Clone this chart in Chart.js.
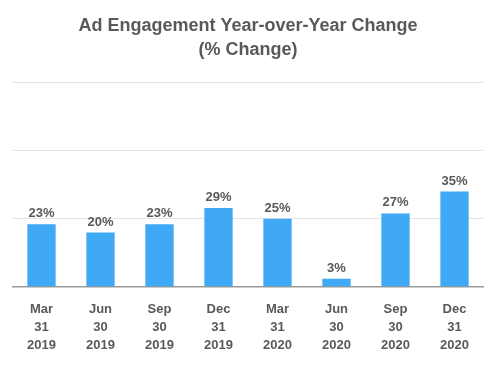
<!DOCTYPE html>
<html>
<head>
<meta charset="utf-8">
<script src="https://cdn.jsdelivr.net/npm/chart.js@4/dist/chart.umd.min.js"></script>
<style>
  html, body { margin: 0; padding: 0; background: #fff; }
  #wrap { width: 500px; height: 370px; }
</style>
</head>
<body>
<div id="wrap"><canvas id="chart" width="500" height="370"></canvas></div>
<script>
// quarter labels (month / day / year)
const quarters = [
  ["Mar", "31", "2019"], ["Jun", "30", "2019"], ["Sep", "30", "2019"], ["Dec", "31", "2019"],
  ["Mar", "31", "2020"], ["Jun", "30", "2020"], ["Sep", "30", "2020"], ["Dec", "31", "2020"]
];
const yoyChange = [23, 20, 23, 29, 25, 3, 27, 35];
const yTicks = [0, 25, 50, 75];

const barColor = "#3fa9f5";
const textGrey = "#595959";

// draws "23%" etc above each bar
const valueLabels = {
  id: "valueLabels",
  afterDatasetsDraw(chart) {
    const ctx = chart.ctx;
    const meta = chart.getDatasetMeta(0);
    ctx.save();
    ctx.font = "bold 13px 'Liberation Sans', Arial, sans-serif";
    ctx.fillStyle = textGrey;
    ctx.textAlign = "center";
    ctx.textBaseline = "bottom";
    meta.data.forEach((bar, i) => {
      ctx.fillText(yoyChange[i] + "%", bar.x, bar.y - 4);
    });
    ctx.restore();
  }
};

new Chart(document.getElementById("chart").getContext("2d"), {
  type: "bar",
  data: {
    labels: quarters,
    datasets: [{
      data: yoyChange,
      backgroundColor: barColor,
      barPercentage: 0.48,
      categoryPercentage: 1.0
    }]
  },
  options: {
    responsive: false,
    animation: false,
    layout: { padding: { left: 12, right: 16, top: 0, bottom: 11 } },
    plugins: {
      legend: { display: false },
      tooltip: { enabled: false },
      title: {
        display: true,
        text: ["Ad Engagement Year-over-Year Change", "(% Change)"],
        color: textGrey,
        font: { family: "'Liberation Sans', Arial, sans-serif", size: 18, weight: "bold", lineHeight: 1.35 },
        padding: { top: 14, bottom: 20 }
      }
    },
    scales: {
      x: {
        grid: { display: false },
        border: { display: false },
        ticks: {
          color: textGrey,
          padding: 5,
          maxRotation: 0,
          autoSkip: false,
          font: { family: "'Liberation Sans', Arial, sans-serif", size: 13, weight: "bold", lineHeight: 18 / 13 }
        }
      },
      y: {
        min: yTicks[0],
        max: yTicks[yTicks.length - 1],
        afterBuildTicks: s => { s.ticks = yTicks.map(v => ({ value: v })); },
        afterFit: s => { s.width = 0; },
        border: { display: false },
        grid: {
          drawTicks: false,
          color: c => (c.tick && c.tick.value === 0 ? "#9a9a9a" : "#e4e4e4"),
          lineWidth: c => (c.tick && c.tick.value === 0 ? 1.5 : 1)
        },
        ticks: { display: false }
      }
    }
  },
  plugins: [valueLabels]
});
</script>
</body>
</html>
